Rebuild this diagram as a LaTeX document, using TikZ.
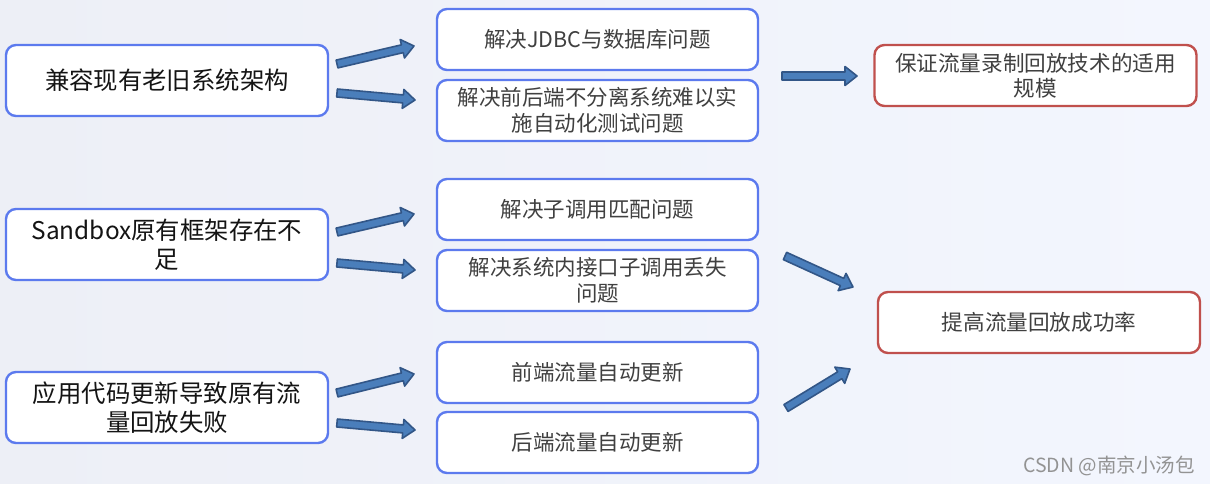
\documentclass[tikz,border=0pt]{standalone}
\usepackage{fontspec}
\setmainfont{Noto Sans CJK SC}
\usetikzlibrary{calc}
\definecolor{bgA}{RGB}{237,239,246}
\definecolor{bgB}{RGB}{243,246,254}
\definecolor{blueborder}{RGB}{92,122,238}
\definecolor{redborder}{RGB}{192,80,77}
\definecolor{arrowfill}{RGB}{74,126,187}
\definecolor{arrowline}{RGB}{50,86,135}
\definecolor{txtdark}{RGB}{20,20,20}
\definecolor{txtgrey}{RGB}{64,64,64}
\newcommand{\fatarrow}[2]{%
  \filldraw[fatarrowstyle]
    ($(#1)!4pt!90:(#2)$) --
    ($($(#2)!12pt!(#1)$)!4pt!90:(#2)$) --
    ($($(#2)!12pt!(#1)$)!9.5pt!90:(#2)$) --
    (#2) --
    ($($(#2)!12pt!(#1)$)!9.5pt!-90:(#2)$) --
    ($($(#2)!12pt!(#1)$)!4pt!-90:(#2)$) --
    ($(#1)!4pt!-90:(#2)$) -- cycle;}
\tikzset{
  fatarrowstyle/.style={fill=arrowfill, draw=arrowline, line width=1.6pt, line join=round},
  basebox/.style={rectangle, rounded corners=10pt, fill=white, line width=2.4pt, inner sep=0pt, align=center},
  leftbox/.style={basebox, draw=blueborder, minimum width=322pt, minimum height=71pt, text=txtdark, font=\fontsize{24.4}{29}\selectfont},
  midbox/.style={basebox, draw=blueborder, minimum width=321pt, minimum height=61pt, text=txtgrey, font=\fontsize{21.5}{26}\selectfont},
  rightbox/.style={basebox, draw=redborder, minimum width=322pt, minimum height=61pt, text=txtgrey, font=\fontsize{21.6}{25}\selectfont},
  watermark/.style={text=gray!85, font=\fontsize{19.5}{22}\selectfont, anchor=east, inner sep=0pt}
}
\begin{document}
\begin{tikzpicture}[x=1pt,y=-1pt]
\shade[left color=bgA, right color=bgB] (0,0) rectangle (1210,484);
\useasboundingbox (0,0) rectangle (1210,484);

% left boxes
\node[leftbox] (L1) at (167,80.5) {兼容现有老旧系统架构};
\node[leftbox] (L2) at (167,244.5) {Sandbox原有框架存在不\\足};
\node[leftbox] (L3) at (167,407.5) {应用代码更新导致原有流\\量回放失败};

% middle boxes
\node[midbox] (M1) at (597.5,39.5) {解决JDBC与数据库问题};
\node[midbox] (M2) at (597.5,110.5) {解决前后端不分离系统难以实\\施自动化测试问题};
\node[midbox] (M3) at (597.5,209.5) {解决子调用匹配问题};
\node[midbox] (M4) at (597.5,280.5) {解决系统内接口子调用丢失\\问题};
\node[midbox] (M5) at (597.5,372.5) {前端流量自动更新};
\node[midbox] (M6) at (597.5,442.5) {后端流量自动更新};

% right boxes
\node[rightbox] (R1) at (1035.5,75.5) {保证流量录制回放技术的适用\\规模};
\node[rightbox] (R2) at (1039,322.5) {提高流量回放成功率};

% arrow end points
\coordinate (a1s) at (337,64);  \coordinate (a1e) at (414,46);
\coordinate (a2s) at (337,93);  \coordinate (a2e) at (415,100);
\coordinate (a3s) at (337,232); \coordinate (a3e) at (414,214);
\coordinate (a4s) at (337,263); \coordinate (a4e) at (415,270);
\coordinate (a5s) at (337,393); \coordinate (a5e) at (414,374);
\coordinate (a6s) at (337,423); \coordinate (a6e) at (415,430);
\coordinate (a7s) at (782,76);  \coordinate (a7e) at (857,76);
\coordinate (a8s) at (785,256); \coordinate (a8e) at (853,287);
\coordinate (a9s) at (786,408); \coordinate (a9e) at (850,369);

\fatarrow{a1s}{a1e}
\fatarrow{a2s}{a2e}
\fatarrow{a3s}{a3e}
\fatarrow{a4s}{a4e}
\fatarrow{a5s}{a5e}
\fatarrow{a6s}{a6e}
\fatarrow{a7s}{a7e}
\fatarrow{a8s}{a8e}
\fatarrow{a9s}{a9e}

\node[watermark] (wm) at (1195,466) {CSDN @南京小汤包};
\end{tikzpicture}
\end{document}
